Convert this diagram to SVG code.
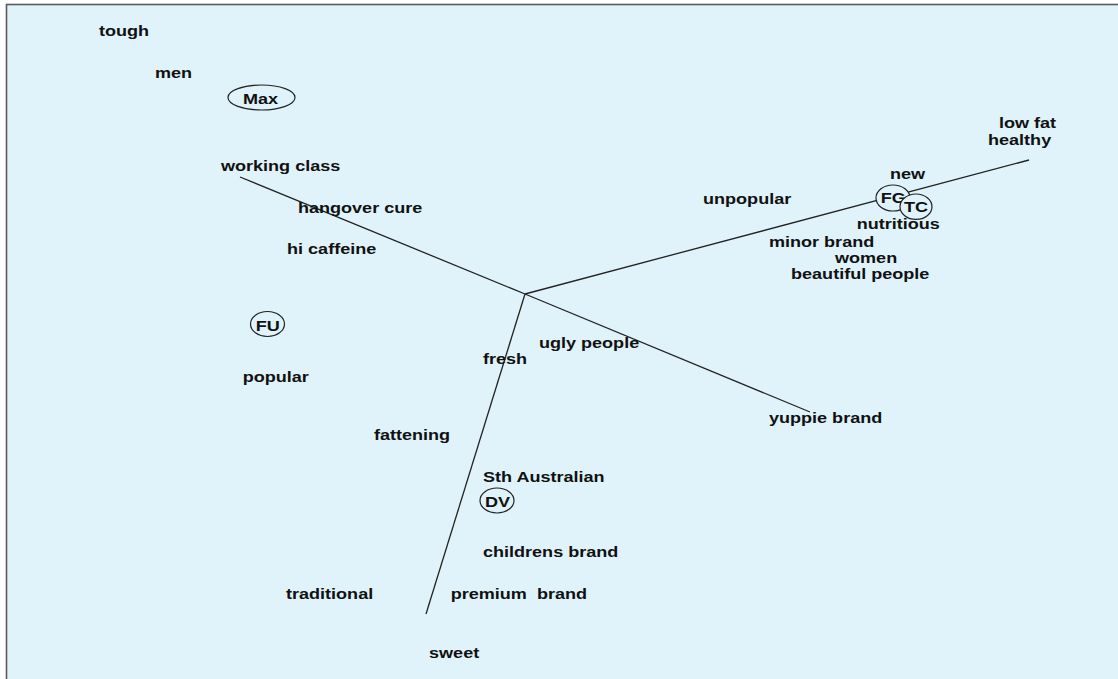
<svg xmlns="http://www.w3.org/2000/svg" width="1118" height="679" viewBox="0 0 1118 679">
<style>
.t{font-family:"Liberation Sans",Arial,sans-serif;font-weight:bold;font-size:14px;fill:#111;white-space:pre}
.e{fill:#E0F3FA;stroke:#222;stroke-width:1.2}
.c{stroke:#222;stroke-width:1.3;fill:none}
</style>
<rect x="0" y="0" width="1118" height="679" fill="#ffffff"/>
<rect x="6.5" y="4.5" width="1130" height="690" fill="#E0F3FA" stroke="#5a5a5a" stroke-width="1.6"/>
<g id="connectors">
<line class="c" x1="525" y1="294" x2="240" y2="177"/>
<line class="c" x1="525" y1="294" x2="1029" y2="160"/>
<line class="c" x1="525" y1="294" x2="810" y2="412"/>
<line class="c" x1="525" y1="294" x2="426" y2="614"/>
</g>
<g id="labels">
<text class="t" transform="scale(1.29 1)" x="76.7" y="36">tough</text>
<text class="t" transform="scale(1.29 1)" x="120.2" y="78">men</text>
<text class="t" transform="scale(1.29 1)" x="171.3" y="171">working class</text>
<text class="t" transform="scale(1.29 1)" x="231" y="213">hangover cure</text>
<text class="t" transform="scale(1.29 1)" x="222.5" y="254">hi caffeine</text>
<text class="t" transform="scale(1.29 1)" x="188.1" y="382">popular</text>
<text class="t" transform="scale(1.29 1)" x="289.9" y="440">fattening</text>
<text class="t" transform="scale(1.29 1)" x="374.4" y="364">fresh</text>
<text class="t" transform="scale(1.29 1)" x="417.8" y="348">ugly people</text>
<text class="t" transform="scale(1.29 1)" x="596.1" y="423">yuppie brand</text>
<text class="t" transform="scale(1.29 1)" x="374.4" y="482">Sth Australian</text>
<text class="t" transform="scale(1.29 1)" x="374.4" y="557">childrens brand</text>
<text class="t" transform="scale(1.29 1)" x="349.4" y="599">premium  brand</text>
<text class="t" transform="scale(1.29 1)" x="332.6" y="658">sweet</text>
<text class="t" transform="scale(1.29 1)" x="221.7" y="599">traditional</text>
<text class="t" transform="scale(1.29 1)" x="545" y="204">unpopular</text>
<text class="t" transform="scale(1.29 1)" x="689.9" y="179">new</text>
<text class="t" transform="scale(1.29 1)" x="774.4" y="128">low fat</text>
<text class="t" transform="scale(1.29 1)" x="765.9" y="145">healthy</text>
<text class="t" transform="scale(1.29 1)" x="664.1" y="229">nutritious</text>
<text class="t" transform="scale(1.29 1)" x="596.1" y="247">minor brand</text>
<text class="t" transform="scale(1.29 1)" x="647.3" y="263">women</text>
<text class="t" transform="scale(1.29 1)" x="613.2" y="279">beautiful people</text>
</g>
<g id="node-max">
<ellipse class="e" cx="261.5" cy="97.5" rx="33.5" ry="12.5"/>
<text class="t" transform="scale(1.29 1)" x="188.4" y="104">Max</text>
</g>
<g id="node-fu">
<ellipse class="e" cx="267.5" cy="324" rx="17" ry="12.5"/>
<text class="t" transform="scale(1.29 1)" x="198.2" y="331">FU</text>
</g>
<g id="node-dv">
<ellipse class="e" cx="497" cy="500.5" rx="17" ry="12.5"/>
<text class="t" transform="scale(1.29 1)" x="376" y="507">DV</text>
</g>
<g id="node-fg">
<ellipse class="e" cx="893" cy="198" rx="17" ry="13"/>
<text class="t" transform="scale(1.29 1)" x="682.7" y="203">FG</text>
</g>
<g id="node-tc">
<ellipse class="e" cx="916" cy="206.7" rx="16" ry="12.7"/>
<text class="t" transform="scale(1.29 1)" x="700.8" y="212">TC</text>
</g>
</svg>
